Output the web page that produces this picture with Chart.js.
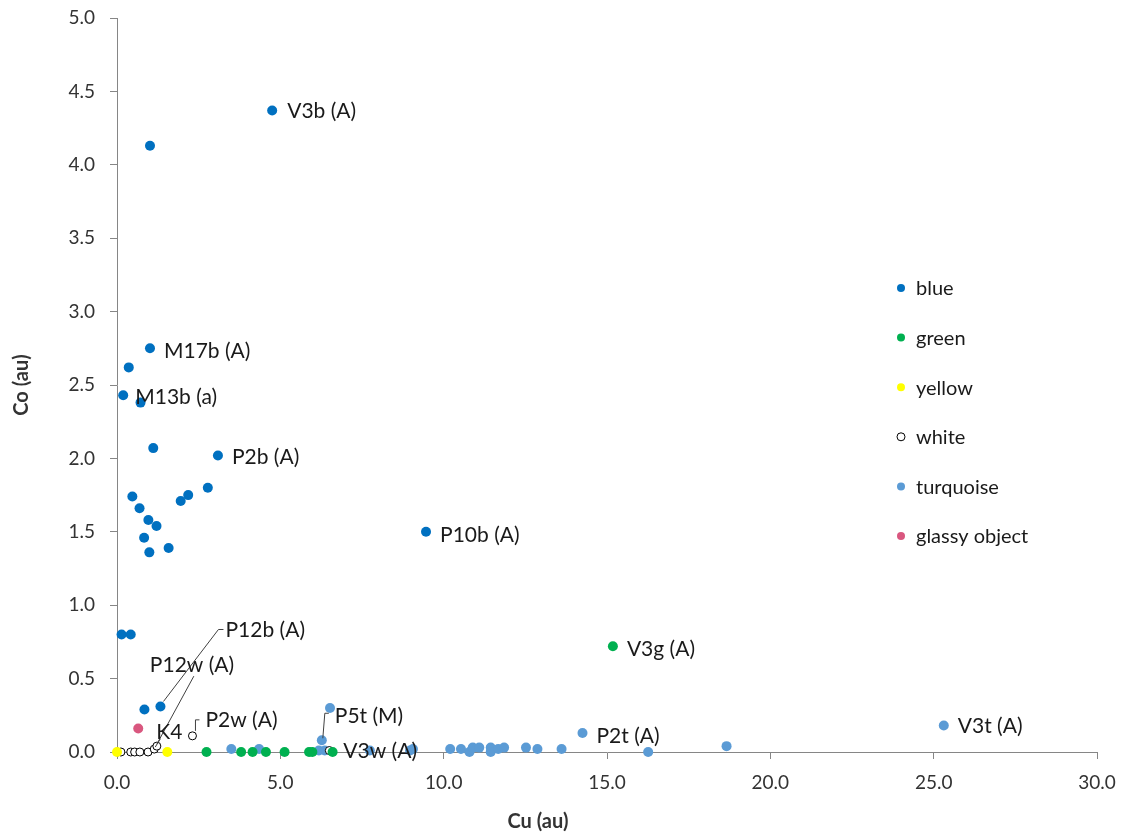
<!DOCTYPE html>
<html>
<head>
<meta charset="utf-8">
<script src="https://cdn.jsdelivr.net/npm/chart.js@4.4.1/dist/chart.umd.min.js"></script>
<style>
  html, body { margin: 0; padding: 0; background: #fff; }
  #contenedor { width: 1126px; height: 838px; position: relative; }
</style>
</head>
<body>
<div id="contenedor"><canvas id="grafico"></canvas></div>
<script>
// --- datos (Cu, Co en au) ---
const seriesNames = ['blue', 'green', 'yellow', 'white', 'turquoise', 'glassy object'];

const blueCu = [4.75, 1.01, 1.01, 0.36, 0.19, 0.72, 1.11, 3.09, 0.47, 0.69, 0.96, 1.21, 0.83, 0.99, 1.58, 1.95, 2.18, 2.78, 9.46, 0.14, 0.42, 1.33, 0.84];
const blueCo = [4.37, 4.13, 2.75, 2.62, 2.43, 2.38, 2.07, 2.02, 1.74, 1.66, 1.58, 1.54, 1.46, 1.36, 1.39, 1.71, 1.75, 1.80, 1.50, 0.80, 0.80, 0.31, 0.29];

const greenCu = [2.74, 3.80, 4.15, 4.56, 5.13, 5.88, 5.98, 6.60, 15.18];
const greenCo = [0.00, 0.00, 0.00, 0.00, 0.00, 0.00, 0.00, 0.00, 0.72];

const yellowCu = [0.00, 1.54];
const yellowCo = [0.00, 0.00];

const whiteCu = [0.02, 0.12, 0.42, 0.54, 0.70, 0.95, 1.14, 1.22, 2.31, 6.50];
const whiteCo = [0.00, 0.00, 0.00, 0.00, 0.00, 0.00, 0.02, 0.04, 0.11, 0.01];

const turqCu = [3.50, 4.35, 6.18, 6.27, 6.36, 6.52, 7.74, 8.97, 9.06, 10.20, 10.53, 10.79, 10.89, 11.09, 11.44, 11.44, 11.67, 11.85, 12.52, 12.87, 13.61, 14.25, 16.26, 18.66, 25.31];
const turqCo = [0.02, 0.02, 0.01, 0.08, 0.01, 0.30, 0.01, 0.01, 0.02, 0.02, 0.02, 0.00, 0.03, 0.03, 0.03, 0.00, 0.02, 0.03, 0.03, 0.02, 0.02, 0.13, 0.00, 0.04, 0.18];

const glassyCu = [0.65];
const glassyCo = [0.16];

const xTicks = [0, 5, 10, 15, 20, 25, 30];
const yTicks = [0, 0.5, 1, 1.5, 2, 2.5, 3, 3.5, 4, 4.5, 5];

// etiquetas de muestras: [serie, indice, texto]
const sampleLabels = [
  [0, 0, 'V3b (A)'], [0, 2, 'M17b (A)'], [0, 4, 'M13b (a)'], [0, 7, 'P2b (A)'],
  [0, 18, 'P10b (A)'], [0, 21, 'P12b (A)'], [3, 7, 'P12w (A)'], [3, 6, 'K4'],
  [3, 8, 'P2w (A)'], [4, 3, 'P5t (M)'], [3, 9, 'V3w (A)'], [1, 8, 'V3g (A)'],
  [4, 21, 'P2t (A)'], [4, 24, 'V3t (A)']
];

document.addEventListener("DOMContentLoaded", function() {

  const FONT = 'Lato, "Open Sans", sans-serif';
  const toPts = (xs, ys) => xs.map((x, i) => ({ x: x, y: ys[i] }));

  // colocacion de etiquetas (px relativo al punto) y lineas guia
  const labelPlace = {
    'V3b (A)':  { dx: 15, dy: 1 },
    'M17b (A)': { dx: 14, dy: 3 },
    'M13b (a)': { dx: 12, dy: 2 },
    'P2b (A)':  { dx: 14, dy: 2 },
    'P10b (A)': { dx: 14, dy: 3 },
    'V3g (A)':  { dx: 14, dy: 3 },
    'P2t (A)':  { dx: 14, dy: 3 },
    'V3t (A)':  { dx: 14, dy: 1 },
    'V3w (A)':  { dx: 14, dy: 1 },
    'P12b (A)': { dx: 65, dy: -76, line: [[3, -5], [58, -77], [63, -77]] },
    'P12w (A)': { dx: -7, dy: -81, line: [[0, -2], [37, -70]] },
    'K4':       { dx: 2, dy: -17, line: [[1, -2], [6, -10]] },
    'P2w (A)':  { dx: 13, dy: -16, line: [[3, -5], [3, -16], [7, -16]] },
    'P5t (M)':  { dx: 13, dy: -24, line: [[1, -2], [3, -27], [7, -27]] }
  };

  const etiquetas = {
    id: 'etiquetas',
    afterDatasetsDraw(chart) {
      const ctx = chart.ctx;
      ctx.save();
      ctx.font = '21px ' + FONT;
      ctx.textBaseline = 'middle';
      ctx.textAlign = 'left';
      sampleLabels.forEach(([s, i, txt]) => {
        const p = chart.getDatasetMeta(s).data[i];
        const pl = labelPlace[txt];
        if (pl.line) {
          ctx.strokeStyle = '#404040';
          ctx.lineWidth = 1;
          ctx.beginPath();
          pl.line.forEach(([lx, ly], k) => {
            if (k === 0) ctx.moveTo(p.x + lx, p.y + ly);
            else ctx.lineTo(p.x + lx, p.y + ly);
          });
          ctx.stroke();
        }
        ctx.fillStyle = '#1a1a1a';
        ctx.fillText(txt, p.x + pl.dx, p.y + pl.dy);
      });

      // leyenda dentro del area de trazado
      ctx.font = '20px ' + FONT;
      chart.data.datasets.forEach((ds, k) => {
        const y = 288 + k * 49.6;
        ctx.beginPath();
        ctx.arc(901, y, 4, 0, Math.PI * 2);
        ctx.fillStyle = ds.backgroundColor;
        ctx.fill();
        if (ds.borderWidth) {
          ctx.strokeStyle = ds.borderColor;
          ctx.lineWidth = 1;
          ctx.stroke();
        }
        ctx.fillStyle = '#1a1a1a';
        ctx.fillText(ds.label, 916, y + 1);
      });

      // titulo del eje x
      ctx.font = 'bold 20px ' + FONT;
      ctx.textAlign = 'center';
      ctx.fillStyle = '#333';
      ctx.fillText('Cu (au)', 538, 822);
      ctx.restore();
    }
  };

  const mk = (name, xs, ys, color, extra) => Object.assign({
    label: name,
    data: toPts(xs, ys),
    backgroundColor: color,
    borderWidth: 0,
    pointRadius: 5,
    pointHoverRadius: 5,
    clip: false
  }, extra || {});

  const ctx1 = document.getElementById('grafico').getContext('2d');
  new Chart(ctx1, {
    type: 'scatter',
    data: {
      datasets: [
        mk(seriesNames[0], blueCu, blueCo, '#0070C0'),
        mk(seriesNames[1], greenCu, greenCo, '#00B050'),
        mk(seriesNames[2], yellowCu, yellowCo, '#FFFF00'),
        mk(seriesNames[3], whiteCu, whiteCo, '#FFFFFF', { borderColor: '#000', borderWidth: 1, pointRadius: 4 }),
        mk(seriesNames[4], turqCu, turqCo, '#5B9BD5'),
        mk(seriesNames[5], glassyCu, glassyCo, '#D9577F')
      ]
    },
    options: {
      responsive: true,
      maintainAspectRatio: false,
      animation: false,
      layout: { padding: { top: 18, right: 29, bottom: 0, left: 0 } },
      plugins: {
        legend: { display: false },
        tooltip: { enabled: false }
      },
      scales: {
        x: {
          type: 'linear',
          min: xTicks[0],
          max: xTicks[xTicks.length - 1],
          afterBuildTicks: s => { s.ticks = xTicks.map(v => ({ value: v })); },
          afterFit: s => { s.height = 86; s.paddingLeft = 0; s.paddingRight = 0; },
          ticks: {
            callback: v => v.toFixed(1),
            font: { family: FONT, size: 19 },
            color: '#333',
            padding: 12,
            maxRotation: 0
          },
          grid: { drawOnChartArea: false, drawTicks: true, tickLength: 7, color: '#868686' },
          border: { color: '#868686' }
        },
        y: {
          type: 'linear',
          min: yTicks[0],
          max: yTicks[yTicks.length - 1],
          afterBuildTicks: s => { s.ticks = yTicks.map(v => ({ value: v })); },
          afterFit: s => { s.width = 117; s.paddingTop = 0; s.paddingBottom = 0; },
          ticks: {
            callback: v => v.toFixed(1),
            font: { family: FONT, size: 19 },
            color: '#333',
            padding: 15
          },
          grid: { drawOnChartArea: false, drawTicks: true, tickLength: 7, color: '#868686' },
          border: { color: '#868686' },
          title: {
            display: true,
            text: 'Co (au)',
            font: { family: FONT, size: 20, weight: 'bold' },
            color: '#333',
            padding: { top: 10, bottom: 0 }
          }
        }
      }
    },
    plugins: [etiquetas]
  });
});
</script>
</body>
</html>
